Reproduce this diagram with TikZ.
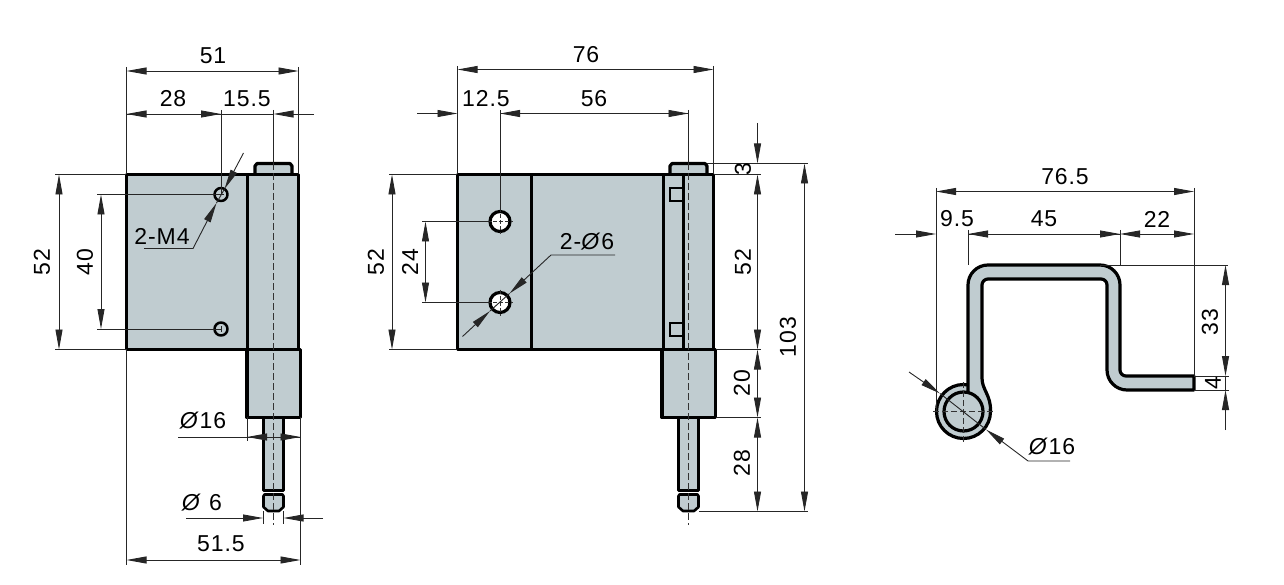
\documentclass[tikz,border=0pt]{standalone}
\usepackage{fontspec}
\setmainfont[LetterSpace=4]{Liberation Sans}
\usepackage{xcolor}
\usetikzlibrary{arrows.meta}
\definecolor{plate}{RGB}{192,204,208}
\tikzstyle{part} = [draw=black, fill=plate, line width=3.2pt, line join=round]
\tikzstyle{edge} = [draw=black, line width=3.2pt, line join=round]
\tikzstyle{dim} = [draw=black!85, line width=0.9pt, >={Triangle[length=20pt,width=7pt]}]
\tikzstyle{axis} = [draw=black!80, line width=0.9pt, dash pattern=on 7pt off 3pt]
\tikzstyle{label} = [inner sep=0pt, font=\fontsize{23}{26}\selectfont]
\tikzstyle{vlabel} = [label, rotate=90]
\newcommand{\dia}{\textit{Ø}}

\begin{document}
\begin{tikzpicture}[x=1pt,y=-1pt]
\useasboundingbox (0,0) rectangle (1284,585);

\draw [part] (255,174) -- (255,166) -- (257,163.5) -- (290,163.5) -- (292,166) -- (292,174);
\draw [part] (126.5,174.5) rectangle (298.5,349.5);
\draw [edge] (247.5,174.5) -- (247.5,349.5);
\draw [part] (263.5,417) -- (263.5,490.5) -- (283.5,490.5) -- (283.5,417);
\draw [part, line width=2.6pt] (264.5,494.5) -- (263.5,496) -- (263.5,507) -- (268,511) -- (279,511) -- (283.5,507) -- (283.5,496) -- (282.5,494.5) -- cycle;
\draw [part] (247,349.5) rectangle (300.5,417.5);
\draw [axis] (273.5,163) -- (273.5,525);
\draw [part, line width=2.5pt] (221,194.5) circle [radius=6.5];
\draw [part, line width=2.5pt] (221,329) circle [radius=6.5];
\draw [dim] (218,194.5) -- (224,194.5);
\draw [dim] (221,326) -- (221,332);

\draw [dim] (126.5,67) -- (126.5,174);
\draw [dim] (298.5,67) -- (298.5,174);
\draw [dim,<->] (126.5,71) -- (298.5,71);
\node [label] (a51) at (213,56) {51};
\draw [dim,->] (221,114) -- (126.5,114);
\draw [dim,->] (126.5,114) -- (221,114);
\draw [dim] (221,110) -- (221,194.5);
\draw [dim] (221,114) -- (273.5,114);
\draw [dim] (273.5,110) -- (273.5,163);
\draw [dim,->] (314,114) -- (273.5,114);
\node [label] (a28) at (173,99) {28};
\node [label] (a155) at (247,99) {15.5};
\draw [dim] (55,174.5) -- (126,174.5);
\draw [dim] (55,349.5) -- (126,349.5);
\draw [dim,<->] (59,174.5) -- (59,349.5);
\node [vlabel] (a52) at (42,262) {52};
\draw [dim] (97,194.5) -- (221,194.5);
\draw [dim] (97,329) -- (221,329);
\draw [dim,<->] (101,194.5) -- (101,329);
\node [vlabel] (a40) at (85,262) {40};
\draw [dim,->] (243.5,153) -- (224.5,189);
\draw [dim] (224.5,189) -- (216.5,203);
\draw [dim,->] (144,248.5) -- (193,248.5) -- (216.5,203);
\node [label] (aM4) at (162,236) {2-M4};
\draw [dim] (247,417) -- (247,441);
\draw [dim] (300.5,417) -- (300.5,565);
\draw [dim] (126.5,349) -- (126.5,565);
\draw [dim] (178,437) -- (300.5,437);
\draw [dim,->] (267,437) -- (247,437);
\draw [dim,->] (280,437) -- (300.5,437);
\node [label] (a16) at (203,421) {\dia{}16};
\draw [dim,->] (186,518) -- (263,518);
\draw [dim,->] (323,518) -- (283.5,518);
\draw [dim] (263,511) -- (263,524);
\draw [dim] (283.5,511) -- (283.5,524);
\node [label] (a6) at (202,503) {\dia{} 6};
\draw [dim,<->] (126.5,560) -- (300.5,560);
\node [label] (a515) at (221,544) {51.5};

\draw [part] (670,174) -- (670,166) -- (672,163.5) -- (705,163.5) -- (707,166) -- (707,174);
\draw [part] (457.5,174.5) rectangle (713.5,349.5);
\draw [edge] (531.5,174.5) -- (531.5,349.5);
\draw [edge] (663.5,174.5) -- (663.5,349.5);
\draw [edge] (683.5,174.5) -- (683.5,349.5);
\draw [draw=black, line width=2pt] (683,188.5) -- (670,188.5) -- (670,201.5) -- (683,201.5);
\draw [draw=black, line width=2pt] (683,322.5) -- (670,322.5) -- (670,336) -- (683,336);
\draw [part] (678.5,417) -- (678.5,490.5) -- (698.5,490.5) -- (698.5,417);
\draw [part, line width=2.6pt] (679.5,494.5) -- (678.5,496) -- (678.5,507) -- (683,511) -- (694,511) -- (698.5,507) -- (698.5,496) -- (697.5,494.5) -- cycle;
\draw [part] (662,349.5) rectangle (715.5,417.5);
\draw [axis] (688.5,163) -- (688.5,525);
\draw [part, fill=white] (500,221.5) circle [radius=10];
\draw [part, fill=white] (500,302.5) circle [radius=10];
\draw [axis, line width=0.6pt, dash pattern=on 4pt off 2pt] (487,221.5) -- (513,221.5);
\draw [axis, line width=0.6pt, dash pattern=on 4pt off 2pt] (500,208.5) -- (500,234.5);
\draw [axis, line width=0.6pt, dash pattern=on 4pt off 2pt] (487,302.5) -- (513,302.5);
\draw [axis, line width=0.6pt, dash pattern=on 4pt off 2pt] (500,289.5) -- (500,315.5);

\draw [dim] (457.5,66) -- (457.5,174);
\draw [dim] (713.5,66) -- (713.5,174);
\draw [dim,<->] (457.5,69.5) -- (713.5,69.5);
\node [label] (b76) at (586,55) {76};
\draw [dim,->] (417,113.5) -- (457.5,113.5);
\draw [dim,->] (688.5,113.5) -- (500,113.5);
\draw [dim,->] (500,113.5) -- (688.5,113.5);
\draw [dim] (500,110) -- (500,211);
\draw [dim] (688.5,110) -- (688.5,163);
\node [label] (b125) at (486,99) {12.5};
\node [label] (b56) at (594,99) {56};
\draw [dim] (389,174.5) -- (457,174.5);
\draw [dim] (389,349.5) -- (457,349.5);
\draw [dim,<->] (392,174.5) -- (392,349.5);
\node [vlabel] (b52) at (376,262) {52};
\draw [dim] (422,221.5) -- (489,221.5);
\draw [dim] (422,302.5) -- (489,302.5);
\draw [dim,<->] (425.5,221.5) -- (425.5,302.5);
\node [vlabel] (b24) at (410,262) {24};
\draw [dim,->] (615,255) -- (551,255) -- (509.5,293.5);
\draw [dim] (509.5,293.5) -- (490,311);
\draw [dim,->] (462.5,336.5) -- (490,311);
\node [label] (b6) at (587,242) {2-\dia{}6};

\draw [dim] (707,163.5) -- (808,163.5);
\draw [dim] (714,174.5) -- (761,174.5);
\draw [dim] (716,349.5) -- (761,349.5);
\draw [dim] (716,417.5) -- (761,417.5);
\draw [dim] (699,511.5) -- (808,511.5);
\draw [dim,->] (757.5,123) -- (757.5,163.5);
\draw [dim,<->] (757.5,174.5) -- (757.5,349.5);
\draw [dim,<->] (757.5,349.5) -- (757.5,417.5);
\draw [dim,<->] (757.5,417.5) -- (757.5,511.5);
\draw [dim,<->] (804.5,163.5) -- (804.5,511.5);
\node [vlabel] (b3) at (743,169) {3};
\node [vlabel] (b52r) at (743,262) {52};
\node [vlabel] (b20) at (742,383) {20};
\node [vlabel] (b28) at (742,463) {28};
\node [vlabel] (b103) at (788,337) {103};

\draw [part] (963.5,411.5) circle [radius=27];
\draw [part] (968,392) [rounded corners=20] -- (968,265) -- (1120,265) [rounded corners=6] -- (1120,376) [sharp corners] -- (1194,376) -- (1194,390) [rounded corners=20] -- (1107,390) [rounded corners=6] -- (1107,279) -- (982,279) [sharp corners] -- (982,378) .. controls (982,390) and (991,395) .. (990.5,411);
\draw [part] (963.5,411.5) circle [radius=19.5];
\draw [axis, dash pattern=on 6pt off 3pt] (933,411.5) -- (994,411.5);
\draw [axis, dash pattern=on 6pt off 3pt] (963.5,382) -- (963.5,442);

\draw [dim] (936,188) -- (936,411);
\draw [dim] (1194,188) -- (1194,376);
\draw [dim,<->] (936,191.5) -- (1194,191.5);
\node [label] (c765) at (1065,177) {76.5};
\draw [dim,->] (895,234) -- (936,234);
\draw [dim,->] (1120,234) -- (968,234);
\draw [dim,->] (968,234) -- (1120,234);
\draw [dim,<->] (1120,234) -- (1194,234);
\draw [dim] (968,230) -- (968,265);
\draw [dim] (1120,230) -- (1120,265);
\node [label] (c95) at (957,219) {9.5};
\node [label] (c45) at (1044,219) {45};
\node [label] (c22) at (1157,219) {22};
\draw [dim] (1100,265) -- (1228,265);
\draw [dim] (1194,376) -- (1229,376);
\draw [dim] (1194,390) -- (1229,390);
\draw [dim,<->] (1225.5,265) -- (1225.5,376);
\draw [dim,->] (1225.5,430) -- (1225.5,390);
\draw [dim] (1225.5,376) -- (1225.5,390);
\node [vlabel] (c33) at (1210,322) {33};
\node [vlabel] (c4) at (1213,383) {4};
\draw [dim,->] (909,372) -- (940,393.5);
\draw [dim] (940,393.5) -- (986,429.5);
\draw [dim,->] (1070,461) -- (1028,461) -- (986,429.5);
\node [label] (c16) at (1052,447) {\dia{}16};
\end{tikzpicture}
\end{document}
